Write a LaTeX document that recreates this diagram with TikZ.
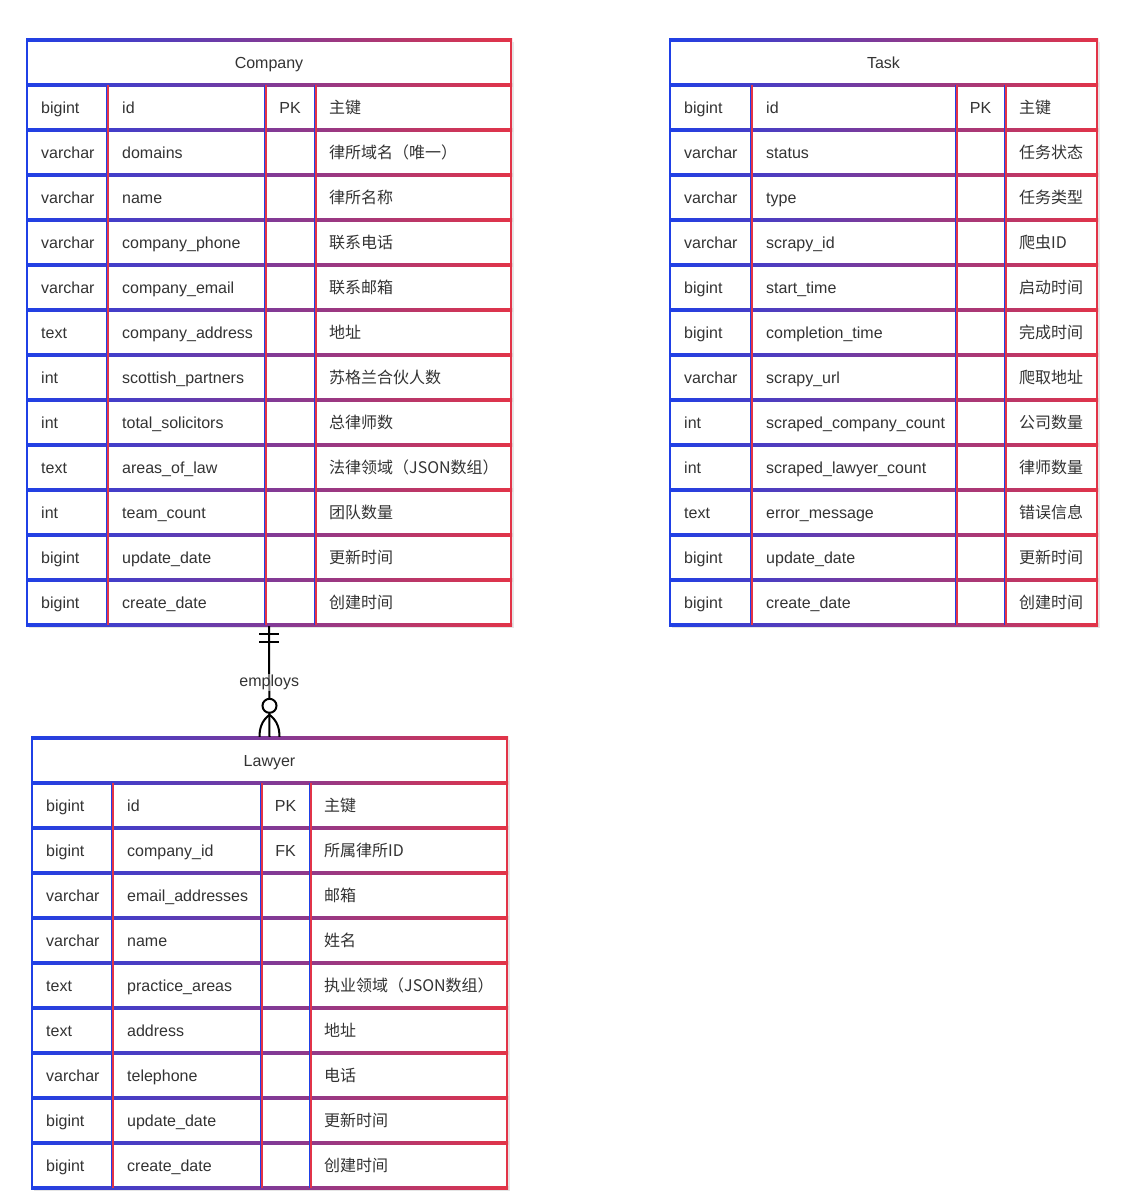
\documentclass[tikz,border=0pt]{standalone}
\usepackage{fontspec}
\setmainfont{Liberation Sans}
\newfontfamily\cjk{Noto Sans CJK SC}
\usetikzlibrary{fit,calc}
\definecolor{erblue}{HTML}{1F40E6}
\definecolor{erred}{HTML}{E23448}
\definecolor{ertxt}{HTML}{333333}
\tikzset{
  ertext/.style={font=\fontsize{16pt}{19pt}\selectfont, text=ertxt, inner sep=0pt},
  ershadow/.style={fill=black, opacity=0.10},
  erhline/.style={left color=erblue, right color=erred},
  erbl/.style={draw=erblue, line width=1.6pt},
  errl/.style={draw=erred, line width=1.1pt},
  relline/.style={draw=black, line width=2pt},
  rellabel/.style={font=\fontsize{16pt}{19pt}\selectfont, text=ertxt, fill=white, fill opacity=0.5, text opacity=1, inner sep=1pt},
}
\newcommand{\ertable}[9]{%
  \xdef\eX{#2}\xdef\eA{#3}\xdef\eB{#4}\xdef\eC{#5}\xdef\eR{#6}\xdef\eY{#7}%
  \pgfmathsetmacro\eEndTmp{#7+45+45*#8}\xdef\eEnd{\eEndTmp}%
  \pgfmathtruncatemacro\eM{#8+1}%
  \fill[ershadow] (#2+2,#7+2) rectangle (#6+3,\eEnd+3);
  \fill[white] (#2,#7) rectangle (#6,\eEnd);
  \node[fit={(#2,#7) (#6,\eEnd)}, inner sep=0pt] (#1) {};
  \foreach \eK in {0,...,\eM} {
    \pgfmathsetmacro\eYY{#7+45*\eK}
    \shade[erhline] (#2-1,\eYY-1.2) rectangle (#6+1,\eYY+1.2);
  }
  \foreach \eXX in {#3,#4,#5} {
    \draw[erbl] (\eXX-0.6,#7+45) -- (\eXX-0.6,\eEnd);
    \draw[errl] (\eXX+1.0,#7+45) -- (\eXX+1.0,\eEnd);
  }
  \draw[erbl, line width=2.2pt] (#2,#7-1) -- (#2,\eEnd+1);
  \draw[draw=erred, line width=2.2pt] (#6,#7-1) -- (#6,\eEnd+1);
  \node[ertext, anchor=base] (#1-title) at ({(#2+#6)/2},#7+28) {#9};
}
\newcommand{\ertrows}[2]{%
  \foreach \eTy/\eNm/\eKy/\eCm [count=\eI] in {#2} {
    \pgfmathsetmacro\eYb{\eY+45*\eI+28}
    \node[ertext, anchor=base west] (#1-t\eI) at (\eX+14,\eYb) {\eTy};
    \node[ertext, anchor=base west] (#1-n\eI) at (\eA+15,\eYb) {\eNm};
    \node[ertext, anchor=base] (#1-k\eI) at ({(\eB+\eC)/2},\eYb) {\eKy};
    \node[ertext, anchor=base west] (#1-c\eI) at (\eC+14,\eYb) {\cjk\eCm};
  }
}
\begin{document}
\begin{tikzpicture}[x=1pt,y=-1pt]
\useasboundingbox[fill=white] (0,0) rectangle (1127,1199);

\ertable{company}{27}{107}{265}{315}{511}{40}{12}{Company}
\ertrows{company}{bigint/id/PK/主键,
  varchar/domains/{}/律所域名（唯一）,
  varchar/name/{}/律所名称,
  varchar/company\_phone/{}/联系电话,
  varchar/company\_email/{}/联系邮箱,
  text/company\_address/{}/地址,
  int/scottish\_partners/{}/苏格兰合伙人数,
  int/total\_solicitors/{}/总律师数,
  text/areas\_of\_law/{}/法律领域（JSON数组）,
  int/team\_count/{}/团队数量,
  bigint/update\_date/{}/更新时间,
  bigint/create\_date/{}/创建时间}

\ertable{task}{670}{751}{956}{1005}{1097}{40}{12}{Task}
\ertrows{task}{bigint/id/PK/主键,
  varchar/status/{}/任务状态,
  varchar/type/{}/任务类型,
  varchar/scrapy\_id/{}/爬虫ID,
  bigint/start\_time/{}/启动时间,
  bigint/completion\_time/{}/完成时间,
  varchar/scrapy\_url/{}/爬取地址,
  int/scraped\_company\_count/{}/公司数量,
  int/scraped\_lawyer\_count/{}/律师数量,
  text/error\_message/{}/错误信息,
  bigint/update\_date/{}/更新时间,
  bigint/create\_date/{}/创建时间}

\ertable{lawyer}{32}{112}{261}{310}{507}{738}{9}{Lawyer}
\ertrows{lawyer}{bigint/id/PK/主键,
  bigint/company\_id/FK/所属律所ID,
  varchar/email\_addresses/{}/邮箱,
  varchar/name/{}/姓名,
  text/practice\_areas/{}/执业领域（JSON数组）,
  text/address/{}/地址,
  varchar/telephone/{}/电话,
  bigint/update\_date/{}/更新时间,
  bigint/create\_date/{}/创建时间}

% relationship
\coordinate (cs) at ($(company.south)+(0,1)$);
\coordinate (ln) at ($(lawyer.north)+(0,-1)$);
\draw[relline] (cs) -- (ln);
\draw[relline] ([shift={(-10,8)}]cs) -- ([shift={(10,8)}]cs);
\draw[relline] ([shift={(-10,16)}]cs) -- ([shift={(10,16)}]cs);
\node[rellabel] (employs) at ($(cs)!0.51!(ln)$) {employs};
\node[circle, draw=black, fill=white, line width=2pt, minimum size=14pt, inner sep=0pt] (optc) at ([shift={(0,-31)}]ln) {};
\draw[relline] ([shift={(0,-22)}]ln) .. controls ([shift={(-8,-16)}]ln) and ([shift={(-10,-8)}]ln) .. ([shift={(-10,0)}]ln);
\draw[relline] ([shift={(0,-22)}]ln) .. controls ([shift={(8,-16)}]ln) and ([shift={(10,-8)}]ln) .. ([shift={(10,0)}]ln);
\end{tikzpicture}
\end{document}
